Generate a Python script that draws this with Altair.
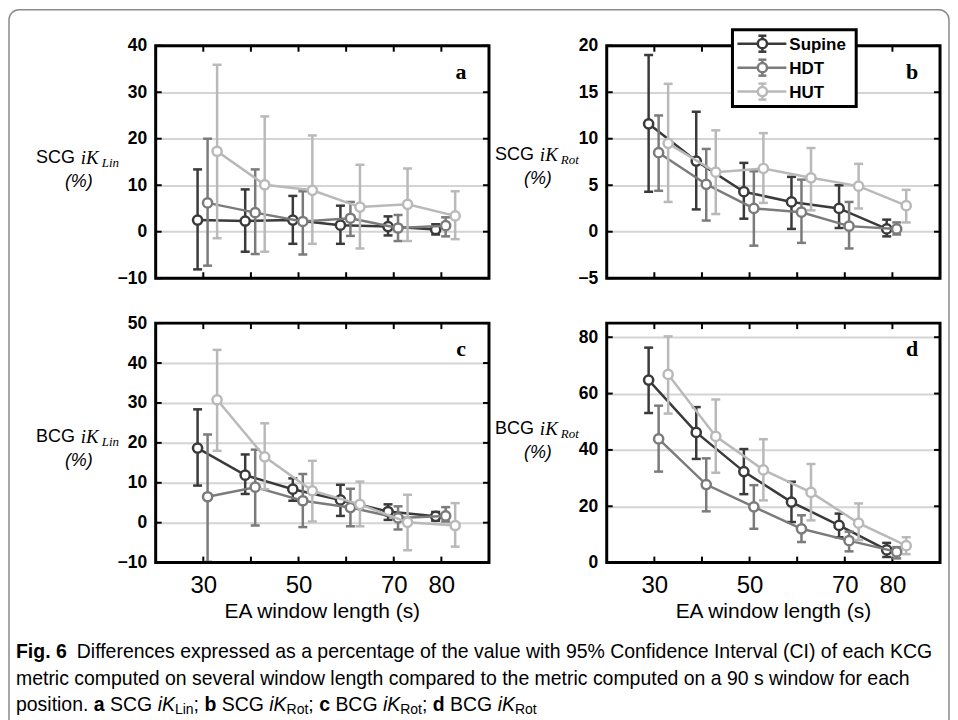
import altair as alt
import pandas as pd

# ---------------- data ----------------
windows = [30, 40, 50, 60, 70, 80]
x_label_values = [30, 50, 70, 80]
series_names = ["Supine", "HDT", "HUT"]
series_colors = ["#3a3a3a", "#7b7b7b", "#b9b9b9"]
series_dodge = [-1.2, 0.9, 2.9]

# a: SCG iK_Lin
scg_lin_mean = {"Supine": [2.5, 2.3, 2.5, 1.4, 1.1, 0.5],
                "HDT": [6.2, 4.1, 2.2, 2.9, 0.8, 1.3],
                "HUT": [17.3, 10.1, 8.9, 5.3, 5.9, 3.4]}
scg_lin_low = {"Supine": [-8.1, -4.3, -2.6, -2.6, -0.8, -0.6],
               "HDT": [-7.3, -4.8, -4.9, -0.9, -2.0, -1.0],
               "HUT": [-1.4, -4.3, -2.6, -3.6, -2.0, -1.6]}
scg_lin_high = {"Supine": [13.4, 9.1, 7.7, 5.6, 3.3, 1.6],
                "HDT": [20.0, 13.4, 8.7, 6.4, 3.6, 3.1],
                "HUT": [35.9, 24.8, 20.7, 14.4, 13.6, 8.7]}

# b: SCG iK_Rot
scg_rot_mean = {"Supine": [11.6, 7.6, 4.3, 3.2, 2.5, 0.3],
                "HDT": [8.5, 5.1, 2.5, 2.1, 0.6, 0.3],
                "HUT": [9.5, 6.4, 6.8, 5.8, 4.9, 2.8]}
scg_rot_low = {"Supine": [4.3, 2.4, 1.4, 0.3, 0.4, -0.5],
               "HDT": [4.4, 1.2, -1.5, -1.2, -1.8, -0.3],
               "HUT": [3.2, 1.9, 3.1, 2.3, 2.5, 1.0]}
scg_rot_high = {"Supine": [19.0, 12.9, 7.4, 5.9, 5.0, 1.3],
                "HDT": [12.5, 8.9, 6.5, 5.6, 3.2, 1.0],
                "HUT": [15.9, 10.9, 10.6, 9.0, 7.3, 4.5]}

# c: BCG iK_Lin
bcg_lin_mean = {"Supine": [18.7, 11.9, 8.4, 5.7, 2.8, 1.6],
                "HDT": [6.5, 8.9, 5.5, 3.8, 1.2, 1.7],
                "HUT": [30.8, 16.5, 8.0, 4.6, 0.1, -0.7]}
bcg_lin_low = {"Supine": [9.3, 7.2, 5.5, 1.7, 0.7, 0.5],
               "HDT": [-9.8, -0.7, -1.1, -0.9, -1.7, 0.3],
               "HUT": [18.0, 8.4, 0.3, -0.9, -6.9, -6.0]}
bcg_lin_high = {"Supine": [28.4, 17.1, 11.1, 9.5, 4.6, 2.7],
                "HDT": [22.1, 18.3, 12.2, 8.5, 4.1, 3.9],
                "HUT": [43.3, 24.9, 15.5, 10.3, 7.0, 4.9]}

# d: BCG iK_Rot
bcg_rot_mean = {"Supine": [64.8, 46.2, 32.3, 21.5, 13.2, 4.5],
                "HDT": [43.9, 27.7, 19.8, 12.0, 7.8, 3.8],
                "HUT": [66.8, 44.8, 32.9, 24.9, 14.0, 6.0]}
bcg_rot_low = {"Supine": [53.1, 36.8, 24.3, 14.4, 9.0, 2.0],
               "HDT": [32.3, 18.2, 12.0, 7.3, 4.0, 1.5],
               "HUT": [52.9, 31.9, 22.1, 15.0, 8.0, 3.0]}
bcg_rot_high = {"Supine": [76.3, 55.2, 40.3, 28.7, 17.4, 7.0],
                "HDT": [55.7, 37.0, 27.5, 16.8, 11.0, 5.5],
                "HUT": [80.3, 57.9, 43.8, 35.0, 21.0, 9.0]}

yticks_a = [-10, 0, 10, 20, 30, 40]
yticks_b = [-5, 0, 5, 10, 15, 20]
yticks_c = [-10, 0, 10, 20, 30, 40, 50]
yticks_d = [0, 20, 40, 60, 80]
ydom_a = [-10, 40]
ydom_b = [-5, 20]
ydom_c = [-10, 50]
ydom_d = [0, 85]
xdom = [20, 90]

caption_line1 = "Differences expressed as a percentage of the value with 95% Confidence Interval (CI) of each KCG"
caption_line2 = "metric computed on several window length compared to the metric computed on a 90 s window for each"
caption_line3 = [("position. ", "n"), ("a", "b"), (" SCG ", "n"), ("iK", "i"), ("Lin", "s"), ("; ", "n"),
                 ("b", "b"), (" SCG ", "n"), ("iK", "i"), ("Rot", "s"), ("; ", "n"),
                 ("c", "b"), (" BCG ", "n"), ("iK", "i"), ("Rot", "s"), ("; ", "n"),
                 ("d", "b"), (" BCG ", "n"), ("iK", "i"), ("Rot", "s")]

# ---------------- layout / style ----------------
W = 334
H_TOP = 233
H_BOT = 240
COL_GAP = 118
ROW_GAP = 45
SANS = "Liberation Sans, Arial, sans-serif"
SERIF = "Liberation Serif, Times New Roman, serif"
CAPFONT = "Liberation Sans, Arial, sans-serif"
WIDTH_FACTOR = 1.0

ARIAL_W = {" ": 278, ".": 278, ",": 278, ";": 278, "(": 333, ")": 333, "%": 889,
           "A": 667, "B": 667, "C": 722, "D": 722, "E": 667, "F": 611, "G": 778, "H": 722,
           "I": 278, "K": 667, "L": 556, "R": 722, "S": 667, "T": 611,
           "a": 556, "b": 556, "c": 500, "d": 556, "e": 556, "f": 278, "g": 556, "h": 556,
           "i": 222, "k": 500, "l": 222, "m": 833, "n": 556, "o": 556, "p": 556, "r": 333,
           "s": 500, "t": 278, "u": 556, "v": 500, "w": 722, "x": 500, "y": 500}
ARIAL_BOLD_W = {"a": 556, "b": 611, "c": 556, "d": 611, "F": 611, "i": 278, "g": 611,
                ".": 278, " ": 278, "6": 556}


def text_width(s, size, bold=False):
    table = ARIAL_BOLD_W if bold else ARIAL_W
    tot = sum(table.get(ch, ARIAL_W.get(ch, 556)) for ch in s)
    return tot / 1000.0 * size * WIDTH_FACTOR


one = pd.DataFrame({"k": [0]})


def txt(text, x, y, size, weight="normal", style="normal", font=SANS, align="left", color="black"):
    return alt.Chart(one).mark_text(
        text=text, font=font, fontSize=size, fontWeight=weight, fontStyle=style,
        align=align, baseline="middle", color=color
    ).encode(x=alt.value(x), y=alt.value(y))


def build_df(mean, low, high):
    rows = []
    for s, dx in zip(series_names, series_dodge):
        for w, m, lo, hi in zip(windows, mean[s], low[s], high[s]):
            rows.append({"series": s, "window": w, "xpos": w + dx, "mean": m, "lo": lo, "hi": hi})
    return pd.DataFrame(rows)


def make_panel(mean, low, high, ydom, yticks, height, letter, metric, sub, bottom,
               title_x, title_y, legend=False, extra=None):
    df = build_df(mean, low, high)
    xscale = alt.Scale(domain=xdom, nice=False, zero=False)
    yscale = alt.Scale(domain=ydom, nice=False, zero=False)
    if bottom:
        xaxis = alt.Axis(values=x_label_values, labelFont=SANS, labelFontSize=24, labelColor="black",
                         labelPadding=11, ticks=False, domain=False, grid=False, title=None,
                         labelOverlap=False)
    else:
        xaxis = None
    yaxis = alt.Axis(values=yticks, labelFont=SANS, labelFontSize=17.5, labelFontWeight="bold",
                     labelColor="black", labelPadding=9, ticks=False, domain=False, grid=True,
                     gridColor="#d4d4d4", gridWidth=2, title=None)

    def X(f):
        return alt.X(f"{f}:Q", scale=xscale, axis=xaxis)

    def Y(f):
        return alt.Y(f"{f}:Q", scale=yscale, axis=yaxis)

    layers = []
    xt = pd.DataFrame({"t": windows})
    yt = pd.DataFrame({"v": yticks})
    TL = 6
    rule = dict(color="black", strokeWidth=2)
    layers.append(alt.Chart(yt).mark_rule(**rule).encode(y=Y("v"), x=alt.value(0), x2=alt.value(TL)))
    layers.append(alt.Chart(yt).mark_rule(**rule).encode(y=Y("v"), x=alt.value(W - TL), x2=alt.value(W)))
    layers.append(alt.Chart(xt).mark_rule(**rule).encode(x=X("t"), y=alt.value(0), y2=alt.value(TL)))
    layers.append(alt.Chart(xt).mark_rule(**rule).encode(x=X("t"), y=alt.value(height - TL), y2=alt.value(height)))

    for s, c in zip(series_names, series_colors):
        base = alt.Chart(df[df["series"] == s])
        layers.append(base.mark_line(color=c, strokeWidth=2.5).encode(x=X("xpos"), y=Y("mean")))
        layers.append(base.mark_rule(color=c, strokeWidth=2.5).encode(x=X("xpos"), y=Y("lo"), y2="hi"))
        for f in ("lo", "hi"):
            layers.append(base.mark_rule(color=c, strokeWidth=2.5, xOffset=-4.5, x2Offset=4.5)
                          .encode(x=X("xpos"), x2="xpos", y=Y(f)))
        layers.append(base.mark_point(shape="circle", filled=True, fill="white", stroke=c,
                                      strokeWidth=2.5, size=85, opacity=1)
                      .encode(x=X("xpos"), y=Y("mean")))

    # box
    layers.append(alt.Chart(one).mark_rect(fillOpacity=0, stroke="black", strokeWidth=3)
                  .encode(x=alt.value(0), x2=alt.value(W), y=alt.value(0), y2=alt.value(height)))

    # panel letter
    layers.append(txt(letter, 306, 26, 22, weight="bold", font=SERIF, align="center"))

    # y title: "SCG iK_Lin" / "(%)"
    layers.append(txt(metric, title_x, title_y, 18, font=SANS))
    layers.append(txt("iK", title_x + 45, title_y, 19, style="italic", font=SERIF))
    layers.append(txt(sub, title_x + 66, title_y + 5, 13, style="italic", font=SERIF))
    layers.append(txt("(%)", title_x + 43, title_y + 24, 18, style="italic", font=SANS, align="center"))

    if bottom:
        layers.append(txt("EA window length (s)", W / 2, height + 50, 21, font=CAPFONT, align="center"))

    if legend:
        lx0, lx1, ly0, ly1 = 126, 250, -16, 61
        layers.append(alt.Chart(one).mark_rect(fill="white", stroke="black", strokeWidth=3)
                      .encode(x=alt.value(lx0), x2=alt.value(lx1), y=alt.value(ly0), y2=alt.value(ly1)))
        for i, (s, c) in enumerate(zip(series_names, series_colors)):
            ry = -2 + 24 * i
            cx = 156
            layers.append(alt.Chart(one).mark_rule(color=c, strokeWidth=2.5)
                          .encode(x=alt.value(131), x2=alt.value(180), y=alt.value(ry)))
            layers.append(alt.Chart(one).mark_rule(color=c, strokeWidth=2.5)
                          .encode(x=alt.value(cx), y=alt.value(ry - 8), y2=alt.value(ry + 8)))
            for dy in (-8, 8):
                layers.append(alt.Chart(one).mark_rule(color=c, strokeWidth=2.5)
                              .encode(x=alt.value(cx - 4), x2=alt.value(cx + 4), y=alt.value(ry + dy)))
            layers.append(alt.Chart(one).mark_point(shape="circle", filled=True, fill="white", stroke=c,
                                                    strokeWidth=2.5, size=85, opacity=1)
                          .encode(x=alt.value(cx), y=alt.value(ry)))
            layers.append(txt(s, 183, ry + 1, 17, weight="bold", font=SANS))

    if extra:
        layers.extend(extra)

    return alt.layer(*layers).properties(width=W, height=height)


# ---------------- figure frame + caption (positioned relative to panel c) ----------------
extra_c = []
extra_c.append(alt.Chart(one).mark_rect(fillOpacity=0, stroke="#8a8a8a", strokeWidth=1.5, cornerRadius=10)
               .encode(x=alt.value(-147), x2=alt.value(795), y=alt.value(-314), y2=alt.value(430)))
CAP = 19.5
SUBCAP = 14
cx0 = -140
cap_y = [330, 357, 383]
extra_c.append(txt("Fig. 6", cx0, cap_y[0], CAP, weight="bold", font=CAPFONT))
extra_c.append(txt(caption_line1, cx0 + text_width("Fig. 6", CAP, True) + 10, cap_y[0], CAP, font=CAPFONT))
extra_c.append(txt(caption_line2, cx0, cap_y[1], CAP, font=CAPFONT))
pos = cx0
for piece, kind in caption_line3:
    size = SUBCAP if kind == "s" else CAP
    bold = kind == "b"
    lead = len(piece) - len(piece.lstrip(" "))
    x = pos + text_width(" " * lead, size)
    label = piece.strip(" ")
    extra_c.append(txt(label, x, cap_y[2] + (5 if kind == "s" else 0), size,
                       weight="bold" if bold else "normal",
                       style="italic" if kind == "i" else "normal", font=CAPFONT))
    pos += text_width(piece, size, bold)

pa = make_panel(scg_lin_mean, scg_lin_low, scg_lin_high, ydom_a, yticks_a, H_TOP, "a", "SCG", "Lin",
                False, -120, 113)
pb = make_panel(scg_rot_mean, scg_rot_low, scg_rot_high, ydom_b, yticks_b, H_TOP, "b", "SCG", "Rot",
                False, -112, 110, legend=True)
pc = make_panel(bcg_lin_mean, bcg_lin_low, bcg_lin_high, ydom_c, yticks_c, H_BOT, "c", "BCG", "Lin",
                True, -120, 114, extra=extra_c)
pd_ = make_panel(bcg_rot_mean, bcg_rot_low, bcg_rot_high, ydom_d, yticks_d, H_BOT, "d", "BCG", "Rot",
                 True, -112, 106)

chart = alt.concat(
    pa, pb, pc, pd_, columns=2,
    spacing={"row": ROW_GAP, "column": COL_GAP},
    bounds="flush", align="each"
).properties(padding=0, background="white").configure_view(stroke=None)

chart.save("out.html", embed_options={"renderer": "svg", "actions": False})
